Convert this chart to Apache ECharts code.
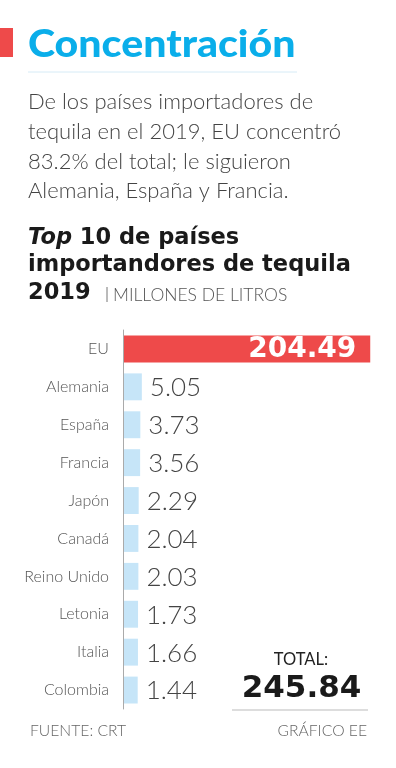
<!DOCTYPE html>
<html>
<head>
<meta charset="utf-8">
<script src="https://cdn.jsdelivr.net/npm/echarts@6/dist/echarts.min.js"></script>
<style>
html,body{margin:0;padding:0;background:#fff;}
#chart{width:396px;height:768px;}
</style>
</head>
<body>
<div id="chart"></div>
<script>
// ---- Data ----
const categories = ['EU','Alemania','España','Francia','Japón','Canadá','Reino Unido','Letonia','Italia','Colombia'];
const values = [204.49, 5.05, 3.73, 3.56, 2.29, 2.04, 2.03, 1.73, 1.66, 1.44];
const valueLabels = ['204.49','5.05','3.73','3.56','2.29','2.04','2.03','1.73','1.66','1.44'];
const totalLabel = '245.84';
const titleText = 'Concentración';
const paragraphLines = [
  'De los países importadores de',
  'tequila en el 2019, EU concentró',
  '83.2% del total; le siguieron',
  'Alemania, España y Francia.'
];
const sourceText = 'FUENTE: CRT';
const creditText = 'GRÁFICO EE';

// ---- Style ----
const RED = '#ee4a4a';
const BLUE = '#c6e5f8';
const CYAN = '#0aaeea';
const X_MIN = -11.4;
const X_MAX = 220;
const F = 'Lato, "Open Sans", sans-serif';
const FB = '"DejaVu Sans", sans-serif';

const chart = echarts.init(document.getElementById('chart'), null, {renderer:'canvas'});

const paraY = [101.5, 131.5, 162, 190.5];
const graphics = [
  {type:'rect', shape:{x:0, y:28, width:13, height:29}, style:{fill:RED}},
  {type:'text', x:28, y:45, scaleX:1.11, style:{text:titleText, font:'900 37px ' + F, fill:CYAN, verticalAlign:'middle'}},
  {type:'line', shape:{x1:28, y1:72, x2:297, y2:72}, style:{stroke:'#d6ebf6', lineWidth:1}},
];
paragraphLines.forEach((t,i)=>{
  graphics.push({type:'text', x:28, y:paraY[i], style:{text:t, font:'300 22px ' + F, fill:'#444', verticalAlign:'middle'}});
});
graphics.push(
  {type:'text', x:28, y:238, style:{text:'{i|Top} 10 de países', font:'bold 22.5px ' + FB, fill:'#1a1a1a', verticalAlign:'middle',
    rich:{i:{font:'italic bold 22.5px ' + FB, fill:'#1a1a1a'}}}},
  {type:'text', x:28, y:265, style:{text:'importandores de tequila', font:'bold 22.5px ' + FB, fill:'#1a1a1a', verticalAlign:'middle'}},
  {type:'text', x:28, y:293, style:{text:'2019', font:'bold 22.5px ' + FB, fill:'#1a1a1a', verticalAlign:'middle'}},
  {type:'line', shape:{x1:107, y1:287, x2:107, y2:302}, style:{stroke:'#777', lineWidth:1}},
  {type:'text', x:113, y:295, style:{text:'MILLONES DE LITROS', font:'300 17.5px ' + F, fill:'#555', verticalAlign:'middle'}},
  {type:'text', x:301, y:659.5, style:{text:'TOTAL:', font:'400 16.5px ' + F, fill:'#222', align:'center', verticalAlign:'middle'}},
  {type:'text', x:301.5, y:689, style:{text:totalLabel, font:'bold 31px ' + FB, fill:'#1a1a1a', align:'center', verticalAlign:'middle'}},
  {type:'line', shape:{x1:232, y1:710, x2:368, y2:710}, style:{stroke:'#ddd', lineWidth:2}},
  {type:'text', x:30, y:731, style:{text:sourceText, font:'300 15.7px ' + F, fill:'#666', verticalAlign:'middle'}},
  {type:'text', x:367, y:731, style:{text:creditText, font:'300 15.7px ' + F, fill:'#666', align:'right', verticalAlign:'middle'}}
);

chart.setOption({
  animation:false,
  grid:{left:123, right:8, top:330, height:379, containLabel:false},
  xAxis:{type:'value', min:X_MIN, max:X_MAX, show:false},
  yAxis:{type:'category', data:categories, inverse:true,
    axisLine:{show:true, onZero:false, lineStyle:{color:'#aaa', width:1}},
    axisTick:{show:false},
    axisLabel:{margin:14, fontFamily:F, fontSize:16, fontWeight:300, color:'#555'}
  },
  series:[{
    type:'custom',
    encode:{x:0, y:1},
    data: values.map((v,i)=>[v,i]),
    renderItem:function(params, api){
      const v = api.value(0);
      const idx = params.dataIndex;
      const start = api.coord([X_MIN, idx]);
      const end = api.coord([v, idx]);
      const h = api.size([0,1])[1]*0.71;
      const isTop = idx === 0;
      return {type:'group', children:[
        {type:'rect', shape:{x:start[0]+1, y:start[1]-h/2, width:end[0]-start[0]-1, height:h}, style:{fill: isTop?RED:BLUE}},
        {type:'text', x: isTop ? end[0]-14 : end[0]+8, y:end[1]+1,
          style:{text:valueLabels[idx], font: isTop ? 'bold 28px ' + FB : '300 26px ' + F,
            fill: isTop ? '#fff' : '#444', align: isTop?'right':'left', verticalAlign:'middle'}}
      ]};
    }
  }],
  graphic:graphics
});
</script>
</body>
</html>
